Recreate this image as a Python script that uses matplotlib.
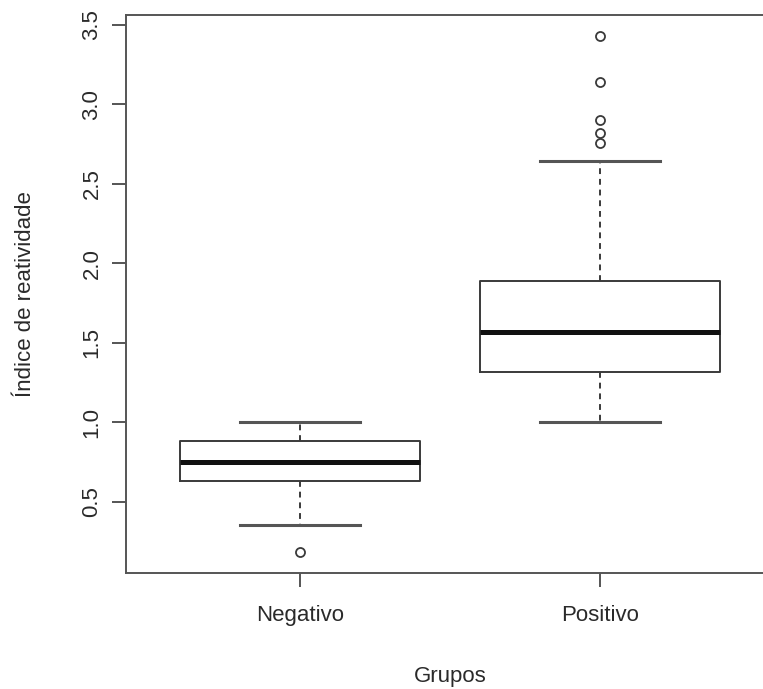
import matplotlib
matplotlib.use("Agg")
import matplotlib.pyplot as plt

plt.rcParams['font.family'] = ['Liberation Sans', 'DejaVu Sans']

# box statistics
groups = ['Negativo', 'Positivo']
q1 = [0.63, 1.318]
med = [0.75, 1.566]
q3 = [0.882, 1.889]
wlo = [0.353, 1.0]
whi = [1.0, 2.646]
fliers = [[0.183], [2.755, 2.818, 2.902, 3.143, 3.433]]

stats = []
for i, g in enumerate(groups):
    stats.append(dict(label=g, q1=q1[i], med=med[i], q3=q3[i],
                      whislo=wlo[i], whishi=whi[i], fliers=fliers[i]))

W, H = 763, 689
fig = plt.figure(figsize=(W / 100, H / 100), dpi=100)
# the right side of the R plot is cut off in the reference
ax = fig.add_axes([126 / W, 1 - 572.7 / H, 648 / W, (572.7 - 15) / H])

lc = '#3a3a3a'
ax.bxp(stats, positions=[1, 2], widths=0.8, capwidths=0.4,
       boxprops=dict(color=lc, lw=1.4),
       medianprops=dict(color='#111111', lw=3.6, solid_capstyle='butt'),
       whiskerprops=dict(color=lc, lw=1.4, linestyle=(0, (3, 2.5))),
       capprops=dict(color='#555555', lw=2.2),
       flierprops=dict(marker='o', markerfacecolor='none', markeredgecolor=lc,
                       markersize=6.5, markeredgewidth=1.3))

ax.set_xlim(0.42, 2.58)
ax.set_ylim(0.053, 3.563)
ax.set_yticks([0.5, 1.0, 1.5, 2.0, 2.5, 3.0, 3.5])
ax.set_yticklabels(['0.5', '1.0', '1.5', '2.0', '2.5', '3.0', '3.5'],
                   rotation=90, va='center')
ax.set_xticks([1, 2])
ax.set_xticklabels(groups)

for s in ax.spines.values():
    s.set_color('#555555')
    s.set_linewidth(1.4)
ax.tick_params(axis='both', length=10, width=1.4, color='#555555',
               labelsize=16, labelcolor='#2a2a2a')
ax.tick_params(axis='y', pad=7)
ax.tick_params(axis='x', pad=13)

fig.text(450 / W, 1 - 682 / H, 'Grupos', ha='center', va='baseline',
         fontsize=16, color='#2a2a2a')
fig.text(26 / W, 1 - 294 / H, 'Índice de reatividade', ha='center', va='center',
         rotation=90, fontsize=16, color='#2a2a2a')

fig.savefig('out.png', dpi=100)
